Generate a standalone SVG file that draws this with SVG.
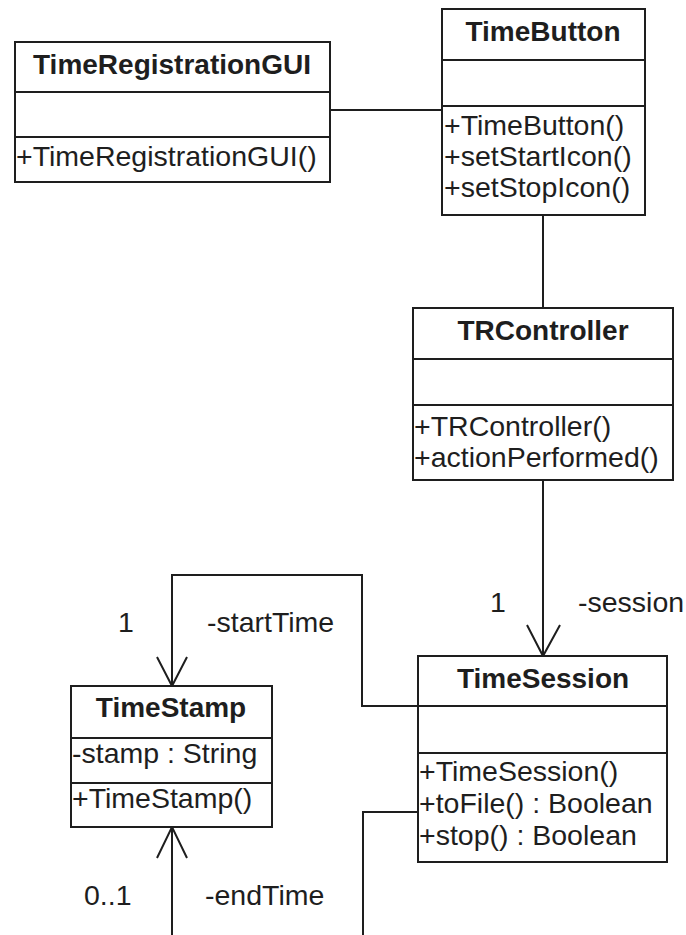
<svg xmlns="http://www.w3.org/2000/svg" width="686" height="935" viewBox="0 0 686 935">
<style>
.box{fill:#fff;stroke:#1e1e1e;stroke-width:2}
.sep{stroke:#1e1e1e;stroke-width:2}
.t{font-family:"Liberation Sans",Arial,sans-serif;font-size:28px;font-weight:bold;fill:#1e1e1e;text-anchor:middle}
.m{font-family:"Liberation Sans",Arial,sans-serif;font-size:28.5px;fill:#1e1e1e}
.c{fill:none;stroke:#1e1e1e;stroke-width:2}
</style>
<rect x="0" y="0" width="686" height="935" fill="#fff"/>
<g id="connectors">
<path class="c" d="M330,110 H442"/>
<path class="c" d="M543,215 V308"/>
<path class="c" d="M543,480 V656"/>
<path class="c" d="M527,625 L543,656 L560,625"/>
<path class="c" d="M418,706 H362 V575 H172 V686"/>
<path class="c" d="M157,657 L172,686 L187,657"/>
<path class="c" d="M418,812 H363 V935"/>
<path class="c" d="M172,935 V827"/>
<path class="c" d="M157,858 L172,827 L187,858"/>
<text class="m" x="490" y="612">1</text>
<text class="m" x="578" y="612">-session</text>
<text class="m" x="118" y="632">1</text>
<text class="m" x="207" y="632">-startTime</text>
<text class="m" x="84" y="905">0..1</text>
<text class="m" x="205" y="905">-endTime</text>
</g>
<g id="TimeRegistrationGUI">
<rect class="box" x="15" y="42" width="315" height="140"/>
<line class="sep" x1="15" y1="92" x2="330" y2="92"/>
<line class="sep" x1="15" y1="137" x2="330" y2="137"/>
<text class="t" x="172" y="74">TimeRegistrationGUI</text>
<text class="m" x="16" y="166">+TimeRegistrationGUI()</text>
</g>
<g id="TimeButton">
<rect class="box" x="442" y="9" width="203" height="206"/>
<line class="sep" x1="442" y1="60" x2="645" y2="60"/>
<line class="sep" x1="442" y1="106" x2="645" y2="106"/>
<text class="t" x="543" y="41">TimeButton</text>
<text class="m" x="444" y="135">+TimeButton()</text>
<text class="m" x="444" y="166">+setStartIcon()</text>
<text class="m" x="444" y="197">+setStopIcon()</text>
</g>
<g id="TRController">
<rect class="box" x="413" y="308" width="260" height="172"/>
<line class="sep" x1="413" y1="359" x2="673" y2="359"/>
<line class="sep" x1="413" y1="405" x2="673" y2="405"/>
<text class="t" x="543" y="340">TRController</text>
<text class="m" x="414" y="436">+TRController()</text>
<text class="m" x="414" y="467">+actionPerformed()</text>
</g>
<g id="TimeSession">
<rect class="box" x="418" y="656" width="249" height="206"/>
<line class="sep" x1="418" y1="706" x2="667" y2="706"/>
<line class="sep" x1="418" y1="753" x2="667" y2="753"/>
<text class="t" x="543" y="688">TimeSession</text>
<text class="m" x="419" y="781">+TimeSession()</text>
<text class="m" x="419" y="813">+toFile() : Boolean</text>
<text class="m" x="419" y="845">+stop() : Boolean</text>
</g>
<g id="TimeStamp">
<rect class="box" x="71" y="686" width="201" height="141"/>
<line class="sep" x1="71" y1="738" x2="272" y2="738"/>
<line class="sep" x1="71" y1="783" x2="272" y2="783"/>
<text class="t" x="171" y="717">TimeStamp</text>
<text class="m" x="72" y="763">-stamp : String</text>
<text class="m" x="72" y="808">+TimeStamp()</text>
</g>
</svg>
